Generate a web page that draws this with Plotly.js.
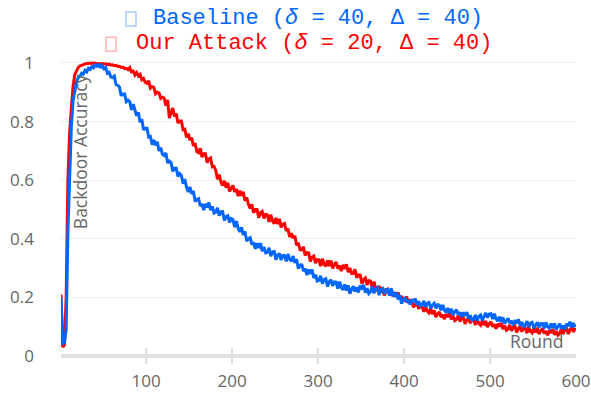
<!DOCTYPE html>
<html>
<head>
<meta charset="utf-8">
<script src="https://cdn.plot.ly/plotly-3.0.1.min.js"></script>
<style>html,body{margin:0;padding:0;background:#fff}#chart{width:591px;height:394px}</style>
</head>
<body>
<div id="chart"></div>
<script>
// Rounds sampled every 2 rounds (1, 3, 5, ... 599)
const rounds = Array.from({length: 300}, (_, i) => 1 + 2 * i);

const seriesNames = ["Baseline", "Our Attack"];
const legendLabels = [
  "Baseline (<i>δ</i> = 40, Δ = 40)",
  "Our Attack (<i>δ</i> = 20, Δ = 40)"
];

const ourAttack = [
  0.210,0.030,0.038,0.200,0.600,0.760,0.845,0.920,0.960,0.975,
  0.984,0.990,0.993,0.995,0.997,0.998,0.999,1.000,0.999,1.000,
  0.999,0.998,0.999,0.997,0.998,0.996,0.997,0.995,0.996,0.993,
  0.994,0.991,0.992,0.988,0.989,0.985,0.986,0.981,0.982,0.977,
  0.984,0.970,0.972,0.959,0.967,0.956,0.961,0.943,0.947,0.934,
  0.931,0.939,0.914,0.919,0.917,0.895,0.900,0.898,0.879,0.883,
  0.880,0.854,0.874,0.812,0.830,0.846,0.818,0.828,0.795,0.802,
  0.802,0.772,0.774,0.746,0.759,0.737,0.745,0.717,0.726,0.698,
  0.694,0.709,0.679,0.690,0.690,0.660,0.673,0.676,0.646,0.647,
  0.633,0.603,0.619,0.594,0.582,0.598,0.575,0.591,0.562,0.574,
  0.582,0.560,0.570,0.546,0.564,0.547,0.560,0.530,0.541,0.518,
  0.504,0.518,0.489,0.500,0.500,0.472,0.488,0.493,0.470,0.483,
  0.482,0.458,0.482,0.461,0.452,0.471,0.450,0.468,0.439,0.450,
  0.452,0.427,0.434,0.406,0.419,0.402,0.410,0.378,0.386,0.363,
  0.362,0.373,0.343,0.353,0.352,0.323,0.337,0.341,0.317,0.329,
  0.328,0.307,0.332,0.313,0.306,0.326,0.307,0.326,0.299,0.312,
  0.320,0.298,0.309,0.290,0.311,0.297,0.313,0.286,0.301,0.281,
  0.282,0.296,0.267,0.277,0.276,0.247,0.261,0.266,0.243,0.257,
  0.256,0.233,0.254,0.232,0.222,0.239,0.217,0.235,0.207,0.221,
  0.228,0.216,0.225,0.204,0.217,0.205,0.217,0.195,0.205,0.188,
  0.191,0.203,0.181,0.190,0.190,0.166,0.176,0.180,0.161,0.171,
  0.169,0.151,0.170,0.154,0.147,0.161,0.143,0.156,0.133,0.143,
  0.150,0.133,0.141,0.126,0.143,0.133,0.146,0.125,0.137,0.121,
  0.125,0.138,0.118,0.129,0.131,0.110,0.123,0.129,0.112,0.124,
  0.123,0.106,0.126,0.111,0.105,0.121,0.105,0.120,0.099,0.110,
  0.117,0.100,0.108,0.093,0.110,0.100,0.113,0.092,0.104,0.088,
  0.092,0.106,0.086,0.098,0.102,0.081,0.094,0.100,0.083,0.096,
  0.095,0.078,0.099,0.084,0.079,0.095,0.080,0.096,0.075,0.087,
  0.094,0.077,0.085,0.071,0.088,0.079,0.092,0.072,0.085,0.071,
  0.077,0.093,0.075,0.089,0.094,0.075,0.090,0.097,0.082,0.096
];

const baseline = [
  0.200,0.040,0.045,0.090,0.420,0.620,0.780,0.870,0.910,0.935,
  0.950,0.955,0.965,0.962,0.975,0.970,0.982,0.978,0.988,0.984,
  0.996,0.986,0.997,0.983,0.991,0.980,0.985,0.965,0.968,0.952,
  0.950,0.955,0.926,0.924,0.918,0.888,0.894,0.894,0.868,0.873,
  0.868,0.840,0.859,0.834,0.820,0.831,0.798,0.808,0.772,0.777,
  0.777,0.747,0.749,0.721,0.737,0.719,0.731,0.700,0.711,0.688,
  0.684,0.693,0.659,0.665,0.660,0.630,0.641,0.641,0.613,0.622,
  0.616,0.588,0.604,0.576,0.560,0.577,0.553,0.563,0.527,0.534,
  0.537,0.512,0.519,0.498,0.519,0.507,0.524,0.498,0.511,0.488,
  0.491,0.506,0.479,0.492,0.493,0.463,0.476,0.479,0.456,0.469,
  0.466,0.440,0.460,0.436,0.424,0.439,0.413,0.425,0.392,0.400,
  0.404,0.380,0.388,0.366,0.385,0.369,0.385,0.358,0.372,0.352,
  0.354,0.369,0.341,0.355,0.357,0.329,0.344,0.350,0.328,0.343,
  0.343,0.323,0.348,0.330,0.323,0.341,0.318,0.331,0.299,0.308,
  0.314,0.290,0.298,0.276,0.295,0.280,0.295,0.266,0.278,0.256,
  0.258,0.274,0.247,0.261,0.264,0.237,0.253,0.260,0.239,0.253,
  0.252,0.230,0.254,0.234,0.226,0.244,0.223,0.241,0.213,0.227,
  0.238,0.220,0.234,0.217,0.241,0.227,0.243,0.216,0.231,0.213,
  0.219,0.238,0.214,0.230,0.234,0.208,0.225,0.232,0.211,0.227,
  0.227,0.206,0.231,0.212,0.202,0.217,0.193,0.208,0.179,0.192,
  0.200,0.183,0.191,0.176,0.193,0.183,0.196,0.175,0.187,0.171,
  0.175,0.188,0.168,0.180,0.183,0.162,0.174,0.180,0.163,0.175,
  0.174,0.156,0.174,0.157,0.149,0.164,0.147,0.161,0.140,0.151,
  0.158,0.141,0.149,0.133,0.149,0.138,0.150,0.128,0.139,0.122,
  0.126,0.140,0.121,0.135,0.140,0.122,0.138,0.147,0.131,0.143,
  0.144,0.126,0.144,0.127,0.119,0.134,0.117,0.132,0.111,0.122,
  0.129,0.112,0.120,0.105,0.122,0.112,0.125,0.104,0.116,0.100,
  0.105,0.119,0.099,0.112,0.115,0.095,0.108,0.115,0.098,0.111,
  0.111,0.094,0.115,0.100,0.095,0.111,0.096,0.111,0.091,0.102,
  0.110,0.094,0.104,0.091,0.110,0.102,0.117,0.098,0.112,0.098
];

const yTickVals = [0, 0.2, 0.4, 0.6, 0.8, 1];
const yTickText = ["0", "0.2", "0.4", "0.6", "0.8", "1"];
const xTickVals = [100, 200, 300, 400, 500, 600];

const blue = "#0066ff";
const red = "#ff0000";

const traces = [
  {x: rounds, y: ourAttack, name: seriesNames[1], type: "scatter", mode: "lines",
   line: {color: red, width: 3}},
  {x: rounds, y: baseline, name: seriesNames[0], type: "scatter", mode: "lines",
   line: {color: blue, width: 3}}
];

const layout = {
  width: 591, height: 394,
  margin: {l: 61, r: 15, t: 60, b: 30, pad: 0},
  paper_bgcolor: "#fff", plot_bgcolor: "#fff",
  showlegend: false,
  font: {family: "Open Sans, sans-serif", color: "#666"},
  xaxis: {
    range: [1, 600], tickvals: xTickVals, ticks: "inside", ticklen: 16,
    tickwidth: 2, tickcolor: "#dddddd", showgrid: false, zeroline: false,
    showline: false, tickfont: {size: 17, color: "#666"}, ticklabelstandoff: 5
  },
  yaxis: {
    range: [-0.0273, 1.0102], tickvals: yTickVals, ticktext: yTickText,
    ticks: "", showgrid: true, gridcolor: "#eeeeee", gridwidth: 1,
    zeroline: true, zerolinecolor: "#e0e0e0", zerolinewidth: 4,
    showline: false, tickfont: {size: 17, color: "#666"}, ticklabelstandoff: 26
  },
  shapes: [
    {type: "rect", xref: "paper", yref: "paper", x0: 0.1262, x1: 0.1456, y0: 1.112, y1: 1.158,
     line: {color: "rgba(0,102,255,0.35)", width: 1.5}, fillcolor: "rgba(0,0,0,0)"},
    {type: "rect", xref: "paper", yref: "paper", x0: 0.0874, x1: 0.1068, y0: 1.029, y1: 1.075,
     line: {color: "rgba(255,0,0,0.3)", width: 1.5}, fillcolor: "rgba(0,0,0,0)"}
  ],
  annotations: [
    {xref: "paper", yref: "paper", x: 0.174, y: 1.135, xanchor: "left", yanchor: "middle",
     showarrow: false, text: legendLabels[0],
     font: {family: "Liberation Mono, monospace", size: 22, color: blue}},
    {xref: "paper", yref: "paper", x: 0.141, y: 1.053, xanchor: "left", yanchor: "middle",
     showarrow: false, text: legendLabels[1],
     font: {family: "Liberation Mono, monospace", size: 22, color: red}},
    {xref: "paper", yref: "paper", x: 0.037, y: 0.697, xanchor: "center", yanchor: "middle",
     showarrow: false, textangle: -90, text: "Backdoor Accuracy",
     font: {family: "Open Sans, sans-serif", size: 17.5, color: "#666"}},
    {xref: "paper", yref: "paper", x: 0.924, y: 0.0757, xanchor: "center", yanchor: "middle",
     showarrow: false, text: "Round",
     font: {family: "Open Sans, sans-serif", size: 17.5, color: "#666"}}
  ]
};

Plotly.newPlot("chart", traces, layout, {displayModeBar: false, staticPlot: true});
</script>
</body>
</html>
